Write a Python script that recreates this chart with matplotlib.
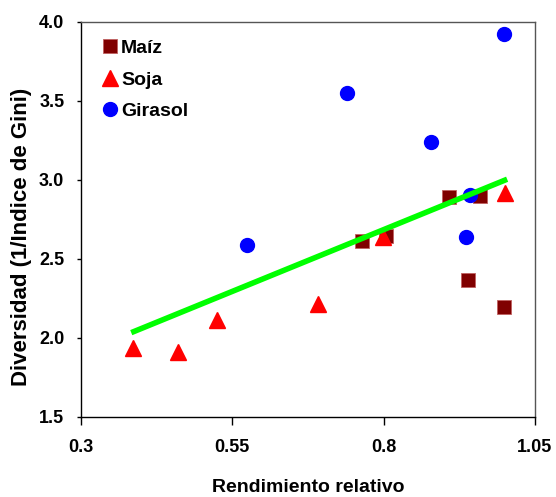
import matplotlib
matplotlib.use("Agg")
import matplotlib.pyplot as plt

plt.rcParams['font.family'] = ['Liberation Sans', 'DejaVu Sans']
plt.rcParams['font.weight'] = 'bold'

maiz_x = [0.764, 0.804, 0.908, 0.959, 0.940, 0.999]
maiz_y = [2.614, 2.646, 2.893, 2.897, 2.365, 2.196]
soja_x = [0.386, 0.460, 0.525, 0.692, 0.799, 1.001]
soja_y = [1.935, 1.908, 2.112, 2.213, 2.639, 2.914]
gira_x = [0.574, 0.739, 0.879, 0.942, 0.936, 0.999]
gira_y = [2.585, 3.547, 3.239, 2.903, 2.639, 3.922]
trend_x = [0.383, 1.004]
trend_y = [2.032, 3.003]

xticks = [0.3, 0.55, 0.8, 1.05]
xticklabels = ["0.3", "0.55", "0.8", "1.05"]
yticks = [1.5, 2.0, 2.5, 3.0, 3.5, 4.0]
yticklabels = ["1.5", "2.0", "2.5", "3.0", "3.5", "4.0"]

fig = plt.figure(figsize=(5.56, 4.97), dpi=100)
ax = fig.add_axes([0.1457, 0.1616, 0.8165, 0.7947])

ax.plot(maiz_x, maiz_y, linestyle='none', marker='s', ms=9.5, color='#800000',
        markeredgecolor='#c06060', markeredgewidth=0.6, label='Maíz', zorder=3)
ax.plot(soja_x, soja_y, linestyle='none', marker='^', ms=11, color='#ff0000',
        markeredgecolor='#ff0000', label='Soja', zorder=3)
ax.plot(gira_x, gira_y, linestyle='none', marker='o', ms=10, color='#0000ff',
        markeredgecolor='#0000ff', label='Girasol', zorder=3)
ax.plot(trend_x, trend_y, color='#00ff00', lw=4, solid_capstyle='butt', zorder=4)

ax.set_xlim(0.3, 1.05)
ax.set_ylim(1.5, 4.0)
ax.set_xticks(xticks)
ax.set_xticklabels(xticklabels)
ax.set_yticks(yticks)
ax.set_yticklabels(yticklabels)
ax.tick_params(axis='both', direction='out', width=1, labelsize=13, colors='black')
ax.tick_params(axis='x', length=5.8, pad=10)
ax.tick_params(axis='y', length=3, pad=9)
for lbl in ax.get_xticklabels() + ax.get_yticklabels():
    lbl.set_fontweight('bold')

for side in ['left', 'bottom']:
    ax.spines[side].set_color('black')
    ax.spines[side].set_linewidth(1.0)
for side in ['top', 'right']:
    ax.spines[side].set_color('#555555')
    ax.spines[side].set_linewidth(1.0)

ax.set_xlabel('Rendimiento relativo', fontsize=14, fontweight='bold')
ax.xaxis.set_label_coords(0.5, -0.157)
ax.set_ylabel('Diversidad (1/Indice de Gini)', fontsize=16, fontweight='bold')
ax.yaxis.set_label_coords(-0.108, 0.456)

leg = ax.legend(loc='upper left', frameon=False, fontsize=14, handlelength=0.6,
                handletextpad=0.3, labelspacing=0.72, borderaxespad=0.3,
                bbox_to_anchor=(0.02, 0.99))
for t in leg.get_texts():
    t.set_fontweight('bold')

fig.savefig('out.png', dpi=100)
